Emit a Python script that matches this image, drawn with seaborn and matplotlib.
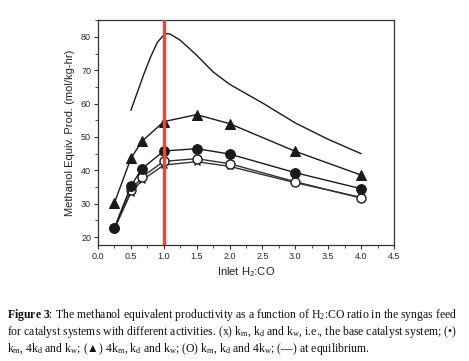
import matplotlib
matplotlib.use("Agg")
import matplotlib.pyplot as plt
import seaborn as sns
import numpy as np
import pandas as pd
from matplotlib.ticker import MultipleLocator, FormatStrFormatter

# ---- data ----
h2co = [0.25, 0.5, 0.667, 1.0, 1.5, 2.0, 3.0, 4.0]
base_x = [22.5, 33.3, 37.0, 41.6, 42.6, 41.2, 36.3, 31.9]        # (x) km, kd, kw
circle_filled = [22.8, 35.3, 40.5, 45.8, 46.5, 44.9, 39.3, 34.5]  # (•) km, 4kd, kw
triangle = [30.3, 43.6, 48.7, 54.6, 56.7, 54.0, 45.7, 38.6]       # (▲) 4km, kd, kw
circle_open = [22.7, 34.0, 38.0, 42.7, 43.5, 42.0, 36.6, 31.7]    # (O) km, kd, 4kw

eq_x = [0.5, 0.6, 0.7, 0.8, 0.9, 1.0, 1.05, 1.1, 1.25, 1.5, 1.75, 2.0, 2.5, 3.0, 3.5, 4.0]
eq_y = [58.0, 63.5, 69.0, 74.0, 78.3, 80.6, 81.0, 80.8, 79.0, 74.5, 69.5, 65.8, 60.2, 54.2, 49.3, 45.0]

xticks = [0.0, 0.5, 1.0, 1.5, 2.0, 2.5, 3.0, 3.5, 4.0, 4.5]
yticks = [20, 30, 40, 50, 60, 70, 80]

caption = [
    r"$\mathbf{Figure\ 3}$: The methanol equivalent productivity as a function of H$\mathregular{_2}$:CO ratio in the syngas feed",
    r"for catalyst systems with different activities. (x) k$\mathregular{_m}$, k$\mathregular{_d}$ and k$\mathregular{_w}$, i.e., the base catalyst system; (•)",
    r"k$\mathregular{_m}$, 4k$\mathregular{_d}$ and k$\mathregular{_w}$; (▲) 4k$\mathregular{_m}$, k$\mathregular{_d}$ and k$\mathregular{_w}$; (O) k$\mathregular{_m}$, k$\mathregular{_d}$ and 4k$\mathregular{_w}$; (—) at equilibrium.",
]

# ---- style ----
sns.set_theme(style="ticks")
plt.rcParams["font.family"] = ["Liberation Sans", "DejaVu Sans"]
plt.rcParams["mathtext.fontset"] = "custom"
plt.rcParams["mathtext.rm"] = "Liberation Serif"
plt.rcParams["mathtext.bf"] = "Liberation Serif:bold"
plt.rcParams["mathtext.it"] = "Liberation Serif:italic"

fig = plt.figure(figsize=(4.69, 3.61), dpi=100)
ax = fig.add_axes([0.209, 0.321, 0.631, 0.624])

lc = "#1a1a1a"
lw = 1.0

sns.lineplot(x=eq_x, y=eq_y, ax=ax, color=lc, linewidth=lw)
sns.lineplot(x=h2co, y=base_x, ax=ax, color="#333333", linewidth=lw,
             marker="x", markersize=5, markeredgecolor=lc, markeredgewidth=1.0)
sns.lineplot(x=h2co, y=circle_open, ax=ax, color="#333333", linewidth=lw,
             marker="o", markersize=6.5, markerfacecolor="white",
             markeredgecolor=lc, markeredgewidth=1.0)
sns.lineplot(x=h2co, y=circle_filled, ax=ax, color=lc, linewidth=lw,
             marker="o", markersize=7, markerfacecolor=lc, markeredgecolor=lc)
sns.lineplot(x=h2co, y=triangle, ax=ax, color=lc, linewidth=lw,
             marker="^", markersize=7.5, markerfacecolor=lc, markeredgecolor=lc)

ax.axvline(1.0, color="#e8473c", linewidth=2.4, zorder=10)

ax.set_xlim(0, 4.5)
ax.set_ylim(17.6, 85.1)
ax.set_xticks(xticks)
ax.set_yticks(yticks)
ax.xaxis.set_major_formatter(FormatStrFormatter("%.1f"))
ax.xaxis.set_minor_locator(MultipleLocator(0.25))
ax.yaxis.set_minor_locator(MultipleLocator(5))
ax.tick_params(which="major", direction="out", length=3, width=0.8,
               labelsize=6.5, labelcolor="#2a2a2a", color="#333333", pad=2)
ax.tick_params(which="minor", direction="out", length=2, width=0.6, color="#333333")
for s in ax.spines.values():
    s.set_visible(True)
    s.set_color("#333333")
    s.set_linewidth(0.9)

ax.set_xlabel(r"Inlet H$\mathregular{_2}$:CO", fontsize=8, color="#222222", labelpad=3)
ax.set_ylabel("Methanol Equiv. Prod. (mol/kg-hr)", fontsize=8, color="#222222", labelpad=4)

ys = [0.1274, 0.0803, 0.0332]
for t, yy in zip(caption, ys):
    fig.text(0.015, yy, t, fontsize=8.5, family=["Liberation Serif", "DejaVu Serif"],
             color="#111111", va="center", ha="left")

fig.savefig("out.png", dpi=100)
